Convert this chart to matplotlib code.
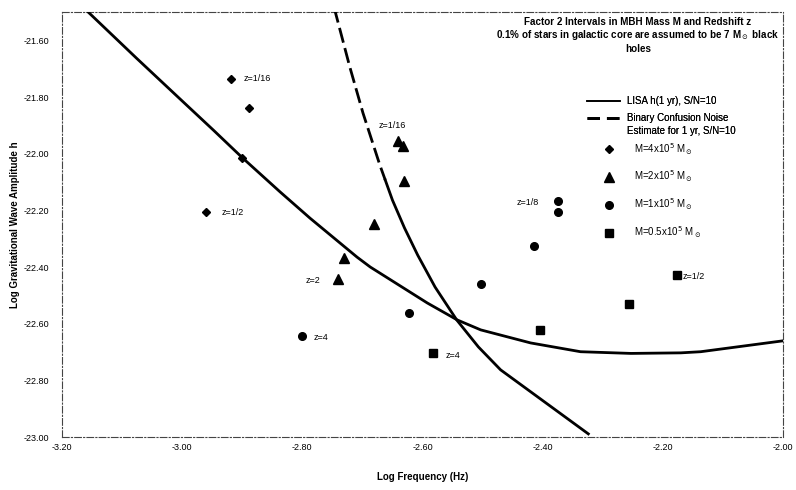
import matplotlib
matplotlib.use("Agg")
import matplotlib.pyplot as plt
from matplotlib.lines import Line2D

plt.rcParams['font.family'] = ['Liberation Sans', 'DejaVu Sans']

# ---- data ----
lisa_x = [-3.160, -3.076, -3.003, -2.948, -2.900, -2.837, -2.787, -2.709, -2.687,
          -2.592, -2.542, -2.503, -2.420, -2.337, -2.253, -2.170, -2.137, -1.998]
lisa_y = [-21.493, -21.663, -21.808, -21.917, -22.014, -22.135, -22.228, -22.365, -22.400,
          -22.527, -22.587, -22.622, -22.668, -22.699, -22.705, -22.703, -22.699, -22.660]

bcn_x = [-2.747, -2.721, -2.699, -2.671, -2.662, -2.650, -2.630, -2.608, -2.579,
         -2.543, -2.507, -2.470, -2.324]
bcn_y = [-21.485, -21.694, -21.857, -22.040, -22.093, -22.164, -22.262, -22.358, -22.471,
         -22.587, -22.682, -22.763, -22.989]
bcn_dashed_upto = 4  # points 0..4 drawn dashed, rest solid

m4_x = [-2.919, -2.889, -2.900, -2.960]
m4_y = [-21.738, -21.840, -22.014, -22.206]

m2_x = [-2.641, -2.632, -2.631, -2.681, -2.731, -2.741]
m2_y = [-21.954, -21.973, -22.097, -22.248, -22.369, -22.444]

m1_x = [-2.374, -2.374, -2.414, -2.502, -2.622, -2.800]
m1_y = [-22.166, -22.207, -22.326, -22.461, -22.561, -22.644]

m05_x = [-2.177, -2.256, -2.405, -2.582]
m05_y = [-22.428, -22.531, -22.622, -22.705]

z_labels = ["z=1/16", "z=1/2", "z=1/16", "z=2", "z=4", "z=4", "z=1/8", "z=1/2"]
z_x = [-2.897, -2.935, -2.673, -2.795, -2.782, -2.562, -2.443, -2.167]
z_y = [-21.733, -22.206, -21.902, -22.448, -22.648, -22.711, -22.173, -22.434]

x_ticks = [-3.20, -3.00, -2.80, -2.60, -2.40, -2.20, -2.00]
y_ticks = [-21.60, -21.80, -22.00, -22.20, -22.40, -22.60, -22.80, -23.00]

title = ("Factor 2 Intervals in MBH Mass M and Redshift z\n"
         "0.1% of stars in galactic core are assumed to be 7 M$_\\odot$ black\nholes")
lisa_label = "LISA h(1 yr), S/N=10"
bcn_labels = ["Binary Confusion Noise", "Estimate for 1 yr, S/N=10"]
mass_labels = ["M=4x10$^5$ M$_\\odot$", "M=2x10$^5$ M$_\\odot$",
               "M=1x10$^5$ M$_\\odot$", "M=0.5x10$^5$ M$_\\odot$"]

# ---- figure ----
fig = plt.figure(figsize=(7.96, 4.90), dpi=100)
ax = fig.add_axes([62/796, 1-437/490, (783-62)/796, (437-12)/490])

DASH = (0, (5.5, 2))
ax.plot(lisa_x, lisa_y, color='black', lw=2.0, zorder=3)
ax.plot(bcn_x[:bcn_dashed_upto+1], bcn_y[:bcn_dashed_upto+1], color='black', lw=2.0,
        linestyle=DASH, zorder=3)
ax.plot(bcn_x[bcn_dashed_upto:], bcn_y[bcn_dashed_upto:], color='black', lw=2.0, zorder=3)

ax.plot(m4_x, m4_y, 'D', color='black', ms=3.6, ls='none', zorder=4)
ax.plot(m2_x, m2_y, '^', color='black', ms=6.5, ls='none', zorder=4)
ax.plot(m1_x, m1_y, 'o', color='black', ms=5.5, ls='none', zorder=4)
ax.plot(m05_x, m05_y, 's', color='black', ms=6.2, ls='none', zorder=4)

for t, x, y in zip(z_labels, z_x, z_y):
    ax.text(x, y, t, fontsize=6.5, ha='left', va='center', zorder=5)

ax.set_xlim(-3.2, -2.0)
ax.set_ylim(-23.0, -21.5)
ax.set_xticks(x_ticks)
ax.set_yticks(y_ticks)
ax.set_xticklabels([f"{v:.2f}" for v in x_ticks], fontsize=6.5)
ax.set_yticklabels([f"{v:.2f}" for v in y_ticks], fontsize=6.5)
ax.tick_params(axis='both', length=0)
ax.tick_params(axis='y', pad=9)
ax.tick_params(axis='x', pad=4)

for s in ax.spines.values():
    s.set_linestyle((0, (6, 2, 1, 2)))
    s.set_linewidth(0.8)
    s.set_color('#444444')

ax.set_xlabel("Log Frequency (Hz)", fontsize=7, fontweight='bold', labelpad=14.5)
ax.set_ylabel("Log Gravitational Wave Amplitude h", fontsize=7, fontweight='bold', labelpad=3)

fig.text(638/796, 1-17/490, title, fontsize=7.1, fontweight='bold', ha='center', va='top',
         linespacing=1.15)

common = dict(loc='upper left', frameon=False, fontsize=7, handlelength=3.4,
              borderaxespad=0, borderpad=0)

leg_lisa = fig.legend([Line2D([], [], color='black', lw=1.2)], [lisa_label],
                      bbox_to_anchor=(587/796, 1-96/490), handletextpad=0.72, **common)
fig.add_artist(leg_lisa)

leg_bcn = fig.legend([Line2D([], [], color='black', lw=2.0, linestyle=(0, (4.5, 2.5))),
                      Line2D([], [], color='none')], bcn_labels,
                     bbox_to_anchor=(587/796, 1-113/490), handletextpad=0.72,
                     labelspacing=0.32, **common)
fig.add_artist(leg_bcn)

mass_handles = [Line2D([], [], marker='D', color='black', ms=3.6, ls='none'),
                Line2D([], [], marker='^', color='black', ms=6.5, ls='none'),
                Line2D([], [], marker='o', color='black', ms=5.5, ls='none'),
                Line2D([], [], marker='s', color='black', ms=6.2, ls='none')]
leg_mass = fig.legend(mass_handles, mass_labels,
                      bbox_to_anchor=(592/796, 1-141/490), handletextpad=0.9,
                      labelspacing=1.25, **common)

fig.savefig("out.png", dpi=100)
